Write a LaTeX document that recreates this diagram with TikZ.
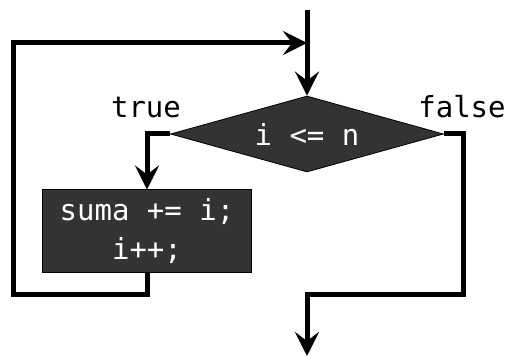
\documentclass[tikz,border=0pt]{standalone}
\usepackage{fontspec}
\setmonofont{DejaVu Sans Mono}
\usetikzlibrary{shapes.geometric,arrows.meta}
\definecolor{boxgray}{HTML}{333333}
\begin{document}
\begin{tikzpicture}[x=1pt,y=-1pt,
  flow/.style={line width=5pt, line join=miter, -{Stealth[length=24pt,width=24pt,inset=9pt]}},
  codetext/.style={font=\ttfamily\fontsize{29}{39}\selectfont},
  decision/.style={diamond, shape aspect=3.6, draw=black, line width=0.8pt, fill=boxgray, text=white, codetext, minimum width=273pt, minimum height=76pt, inner sep=0pt},
  process/.style={rectangle, draw=black, line width=1pt, fill=boxgray, text=white, codetext, minimum width=209pt, minimum height=83pt, inner sep=0pt, align=center},
  lbl/.style={codetext, anchor=base}]
\useasboundingbox (0,0) rectangle (509,358);
\node[decision] (dec) at (307,134) {i <= n};
\node[process] (box) at (147,231.5) {suma += i;\\i++;};
\node[lbl] (t) at (146,118) {true};
\node[lbl] (f) at (462,118) {false};
\coordinate (start) at (307,10);
\coordinate (join) at (307,43);
\coordinate (tl) at (147,134);
\coordinate (lb) at (13,295);
\coordinate (lt) at (13,43);
\coordinate (fr) at (463,134);
\coordinate (frb) at (463,295);
\coordinate (mid) at (307,295);
\coordinate (stop) at (307,356);
\draw[flow] (start) -- (dec.north);
\draw[flow] (dec.west) -- (tl) -- (box.north);
\draw[flow] (box.south) |- (lb) -- (lt) -- (join);
\draw[flow] (dec.east) -- (fr) -- (frb) -- (mid) -- (stop);
\end{tikzpicture}
\end{document}
